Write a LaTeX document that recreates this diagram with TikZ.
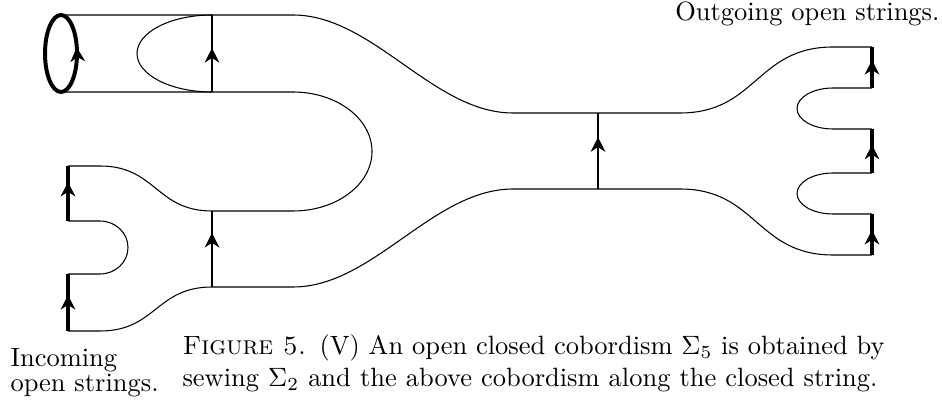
\documentclass[tikz,border=0pt]{standalone}
\usepackage{amsmath,amssymb}
\usepackage{tikz}
\usetikzlibrary{arrows.meta,decorations.markings}

\begin{document}
\begin{tikzpicture}[
    x=0.378pt, y=0.378pt,
    sheet/.style={line width=0.4pt},
    bdry/.style={line width=1.5pt},
    flow/.style={postaction={decorate, decoration={markings,
        mark=at position #1 with {\arrow{Stealth[length=5.5pt,width=5.6pt,inset=1.8pt,line width=0.4pt]}}}}},
    lbl/.style={inner sep=0pt},
]
    \useasboundingbox (0,0) rectangle (942,408);

    % incoming closed string
    \draw[bdry, flow=0.035] (77,354.5) arc[start angle=0, end angle=360, x radius=16, y radius=38.5];
    \draw[sheet] (212,393) arc[start angle=90, end angle=270, x radius=75, y radius=38.5];
    \draw[sheet, flow=0.57] (212,316) -- (212,393);

    % outer boundary of the sheet
    \draw[sheet] (61,393) -- (293,393) .. controls (373,393) and (433,295) .. (513,295)
        -- (680,295) .. controls (756.5,295) and (756.5,361) .. (833,361) -- (872,361);
    \draw[sheet] (61,316) -- (293,316) arc[start angle=90, end angle=-90, x radius=79, y radius=59.5]
        -- (212,197) .. controls (156,197) and (156,242) .. (100,242) -- (68,242);
    \draw[sheet] (68,187) -- (100,187) arc[start angle=90, end angle=-90, x radius=28, y radius=26.5] -- (68,134);
    \draw[sheet] (68,77) -- (100,77) .. controls (156,77) and (156,121) .. (212,121)
        -- (293,121) .. controls (373,121) and (433,219) .. (513,219)
        -- (680,219) .. controls (756.5,219) and (756.5,153) .. (833,153) -- (872,153);
    \draw[sheet] (872,320) -- (833,320) arc[start angle=90, end angle=270, x radius=36, y radius=20.5] -- (872,279);
    \draw[sheet] (872,235) -- (833,235) arc[start angle=90, end angle=270, x radius=36, y radius=20.5] -- (872,194);

    % cuts
    \draw[sheet, flow=0.71] (212,121) -- (212,197);
    \draw[sheet, flow=0.68] (598,219) -- (598,295);

    % incoming open strings
    \draw[bdry, flow=0.71] (68,187) -- (68,242);
    \draw[bdry, flow=0.63] (68,77) -- (68,134);

    % outgoing open strings
    \draw[bdry, flow=0.68] (872,320) -- (872,361);
    \draw[bdry, flow=0.64] (872,235) -- (872,279);
    \draw[bdry, flow=0.61] (872,153) -- (872,194);

    % labels
    \node[lbl, anchor=base east] (outLbl) at (940,387) {Outgoing open strings.};
    \node[lbl, anchor=base west] (inLblA) at (10,42) {Incoming};
    \node[lbl, anchor=base west] (inLblB) at (10,16.3) {open strings.};
    \node[lbl, anchor=base west] (capA) at (182,53)
        {\textsc{Figure 5.}\enspace(V) An open closed cobordism $\Sigma_5$ is obtained by};
    \node[lbl, anchor=base west] (capB) at (182,21.3)
        {\makebox[262.7pt][s]{sewing $\Sigma_2$ and the above cobordism along the closed string.}};
\end{tikzpicture}
\end{document}
